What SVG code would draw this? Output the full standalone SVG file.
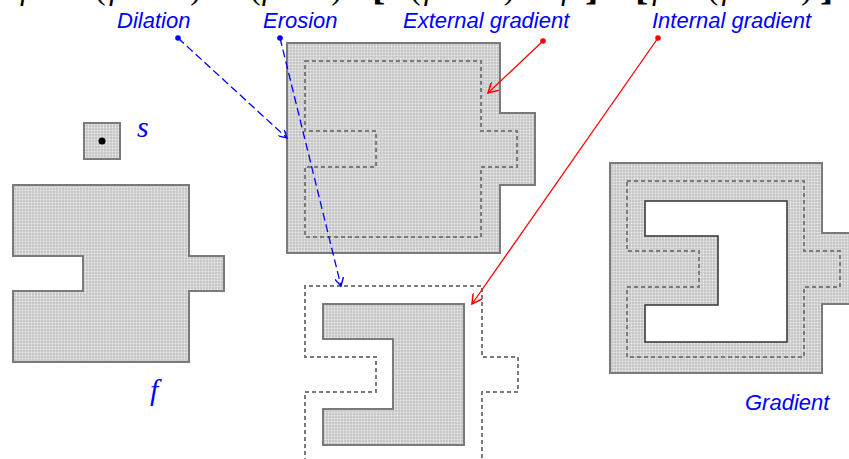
<svg xmlns="http://www.w3.org/2000/svg" width="849" height="459" viewBox="0 0 849 459">
<style>
.lbl{font-family:"Liberation Sans",Arial,sans-serif;font-style:italic;font-size:22px;fill:#0000ff}
.math{font-family:"Liberation Serif","Times New Roman",serif;font-style:italic;fill:#0000ff}
.frm{font-family:"Liberation Serif","DejaVu Serif",serif;font-size:32px;fill:#000}
.brk{font-family:"Liberation Serif",serif;font-size:40px;font-weight:bold;fill:#000}
.solid{fill:url(#dots);stroke:#7a7a7a;stroke-width:2}
.dash{fill:none;stroke:#7a7a7a;stroke-width:2;stroke-dasharray:4 3}
.hole{fill:#fff;stroke:#333;stroke-width:1.5}
.blue{stroke:#0000ff;stroke-width:1.3;fill:none;stroke-dasharray:8 4}
.red{stroke:#ff0000;stroke-width:1.3;fill:none}
</style>
<defs>
<pattern id="dots" width="3" height="3" patternUnits="userSpaceOnUse">
<rect width="3" height="3" fill="#c6c6c6"/>
<circle cx="1.5" cy="1.5" r="0.9" fill="#eeeeee"/>
</pattern>
<marker id="ab" viewBox="0 0 10 10" refX="9" refY="5" markerWidth="9" markerHeight="9" markerUnits="userSpaceOnUse" orient="auto">
<path d="M0,0 L9,5 L0,10" fill="none" stroke="#0000ff" stroke-width="1.6"/>
</marker>
<marker id="ar" viewBox="0 0 10 10" refX="9" refY="5" markerWidth="11" markerHeight="11" markerUnits="userSpaceOnUse" orient="auto">
<path d="M0,0 L9,5 L0,10" fill="none" stroke="#ff0000" stroke-width="1.4"/>
</marker>
</defs>
<rect width="849" height="459" fill="#fff"/>

<g id="formula">
<text class="frm" x="20" y="-1" font-style="italic">f</text>
<text class="frm" x="95" y="-1" textLength="106">(<tspan font-style="italic">f</tspan> ⊕ <tspan font-style="italic">s</tspan>)</text>
<text class="frm" x="250" y="-1" textLength="92">(<tspan font-style="italic">f</tspan> ⊖ <tspan font-style="italic">s</tspan>)</text>
<text class="brk" x="372" y="-1">[</text>
<text class="frm" x="410" y="-1" textLength="160">(<tspan font-style="italic">f</tspan> ⊕ <tspan font-style="italic">s</tspan>) − <tspan font-style="italic">f</tspan></text>
<text class="brk" x="585" y="-1">]</text>
<text class="brk" x="635" y="-1">[</text>
<text class="frm" x="652" y="-1" textLength="160"><tspan font-style="italic">f</tspan> − (<tspan font-style="italic">f</tspan> ⊖ <tspan font-style="italic">s</tspan>)</text>
<text class="brk" x="820" y="-1">]</text>
</g>

<g id="s">
<rect class="solid" x="84" y="123" width="36" height="36"/>
<circle cx="102" cy="141" r="3.5" fill="#000"/>
<text class="math" x="137" y="137" font-size="30">s</text>
</g>

<g id="f">
<path class="solid" d="M13,185 H189 V256 H224 V291 H189 V362 H13 V291 H83 V256 H13 Z"/>
<text class="math" x="150" y="400" font-size="30">f</text>
</g>

<g id="dilation">
<path class="solid" d="M287,43 H500 V113 H535 V185 H500 V253 H287 Z"/>
<path class="dash" d="M305,61 H481 V131 H517 V167 H481 V237 H305 V167 H376 V131 H305 Z"/>
</g>

<g id="erosion">
<path class="dash" d="M305,462 V392 H376 V357 H305 V286 H482 V357 H518 V392 H482 V462"/>
<path class="solid" d="M323,304 H464 V445 H323 V409 H393 V339 H323 Z"/>
</g>

<g id="gradient">
<path class="solid" d="M610,163 H822 V233 H860 V304 H822 V373 H610 Z"/>
<path class="dash" d="M627,181 H804 V251 H840 V287 H804 V357 H627 V287 H699 V251 H627 Z"/>
<path class="hole" d="M645,201 H787 V342 H645 V305 H718 V236 H645 Z"/>
<text class="lbl" x="745" y="410">Gradient</text>
</g>

<g id="connectors">
<line class="blue" x1="178" y1="38" x2="287" y2="138" marker-end="url(#ab)"/>
<circle cx="178" cy="38" r="2.8" fill="#0000ff"/>
<line class="blue" x1="280" y1="38" x2="341" y2="286" marker-end="url(#ab)"/>
<circle cx="280" cy="38" r="2.8" fill="#0000ff"/>
<line class="red" x1="543" y1="41" x2="488" y2="93" marker-end="url(#ar)"/>
<circle cx="543" cy="41" r="2.8" fill="#ff0000"/>
<line class="red" x1="658" y1="38" x2="472" y2="304" marker-end="url(#ar)"/>
<circle cx="658" cy="38" r="2.8" fill="#ff0000"/>
</g>

<g id="labels">
<text class="lbl" x="117" y="28">Dilation</text>
<text class="lbl" x="263" y="28">Erosion</text>
<text class="lbl" x="403" y="28">External gradient</text>
<text class="lbl" x="652" y="28">Internal gradient</text>
</g>
</svg>
